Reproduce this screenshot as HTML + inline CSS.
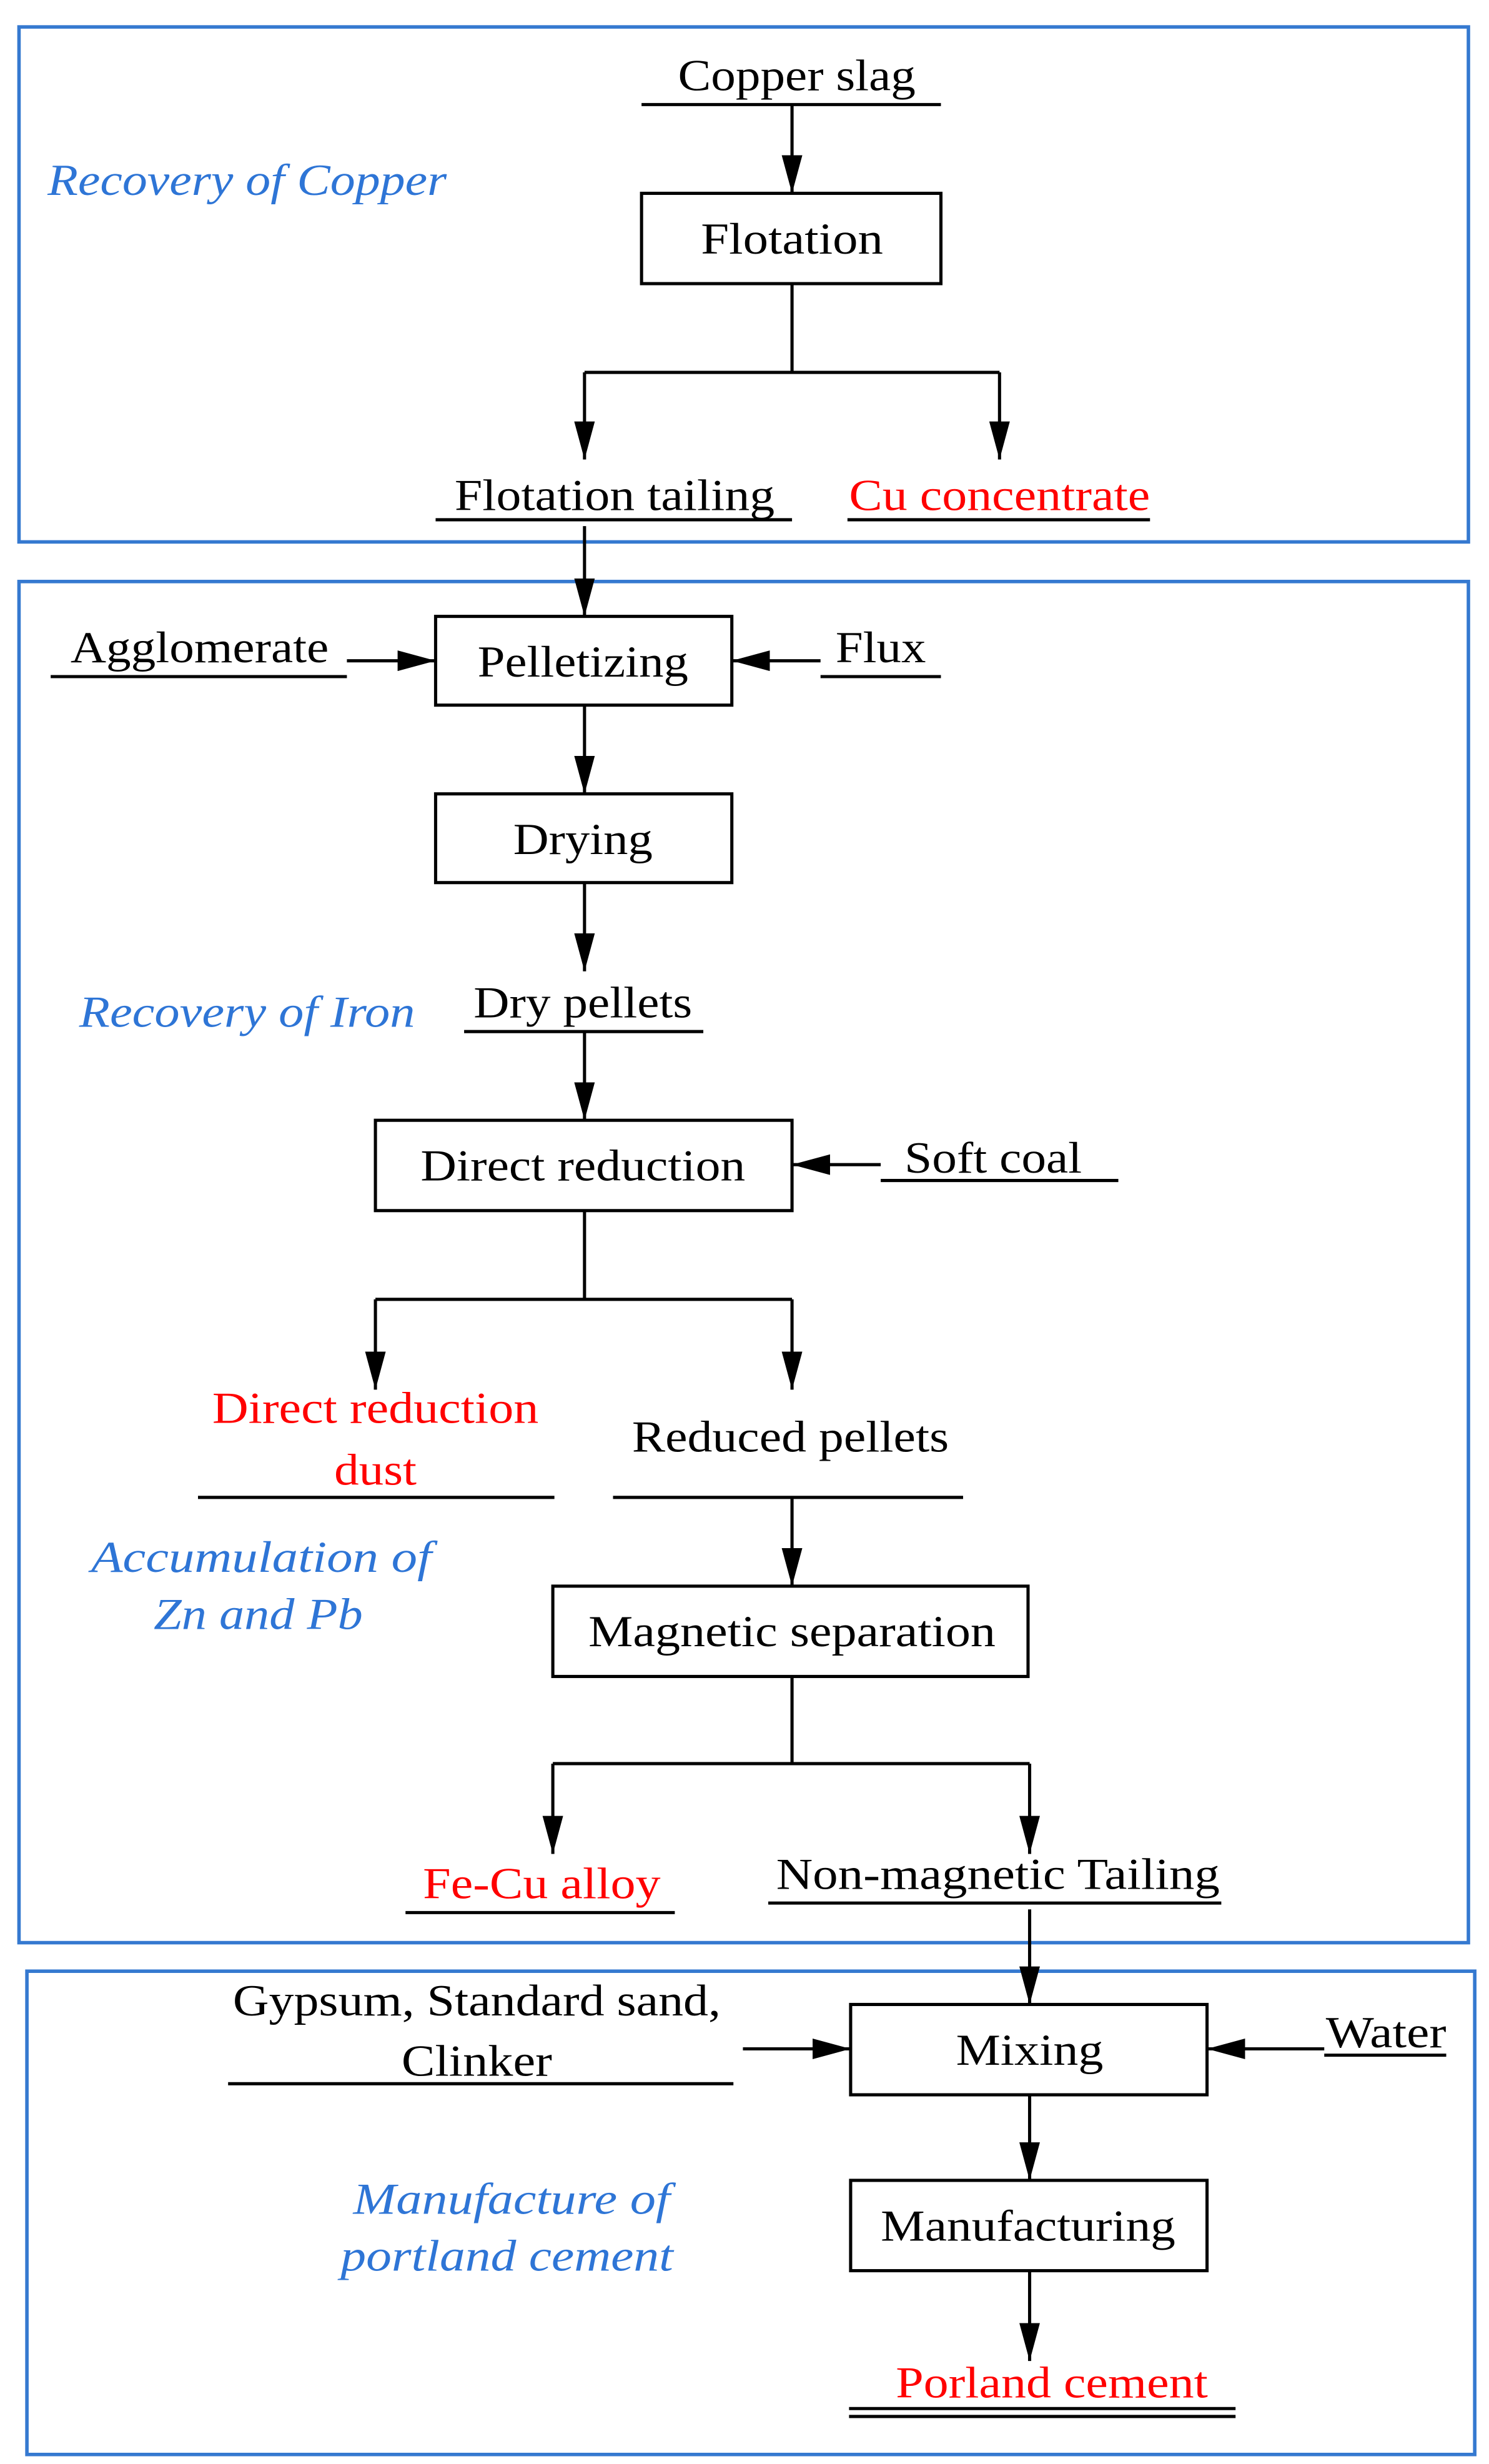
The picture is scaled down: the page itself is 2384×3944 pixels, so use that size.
<!DOCTYPE html>
<html><head><meta charset="utf-8"><style>
html,body{margin:0;padding:0;background:#fff;}
svg{display:block;}
text{font-family:"Liberation Serif",serif;font-size:28px;}
.b{fill:#000;}
.r{fill:#ff0000;}
.i{fill:#2e75d6;font-style:italic;}
</style></head><body>
<svg width="2384" height="3944" viewBox="0 0 940 1555" preserveAspectRatio="none" xmlns="http://www.w3.org/2000/svg">
<defs>
<marker id="h" viewBox="0 0 24 13" refX="24" refY="6.5" markerWidth="24" markerHeight="13" markerUnits="userSpaceOnUse" orient="auto"><path d="M0,0 L24,6.5 L0,13 z" fill="#000"/></marker></defs>
<g fill="none" stroke="#3579d0" stroke-width="2.2">
<rect x="12" y="17" width="915" height="325"/>
<rect x="12" y="367" width="915" height="859"/>
<rect x="17" y="1244" width="914" height="305"/>
</g>
<g fill="none" stroke="#000" stroke-width="2">
<rect x="405" y="122" width="189" height="57"/>
<rect x="275" y="389" width="187" height="56"/>
<rect x="275" y="501" width="187" height="56"/>
<rect x="237" y="707" width="263" height="57"/>
<rect x="349" y="1001" width="300" height="57"/>
<rect x="537" y="1265" width="225" height="57"/>
<rect x="537" y="1376" width="225" height="57"/>
<path d="M405 66H594M275 328H500M535 328H726M32 427H219M518 427H594M293 651H444M556 745H706M125 945H350M387 945H608M256 1207H426M485 1201H771M144 1315H463M836 1297H913M536 1520H780M536 1525H780"/>
<path d="M500 179V235M369 235H631M369 764V820M237 820H500M500 1058V1113M349 1113H650"/>
</g>
<g stroke="#000" stroke-width="2" fill="none">
<path d="M500 66V122" marker-end="url(#h)"/>
<path d="M369 235V290" marker-end="url(#h)"/>
<path d="M631 235V290" marker-end="url(#h)"/>
<path d="M369 332V389" marker-end="url(#h)"/>
<path d="M219 417H275" marker-end="url(#h)"/>
<path d="M518 417H462" marker-end="url(#h)"/>
<path d="M369 445V501" marker-end="url(#h)"/>
<path d="M369 557V613" marker-end="url(#h)"/>
<path d="M369 651V707" marker-end="url(#h)"/>
<path d="M556 735H500" marker-end="url(#h)"/>
<path d="M237 820V877" marker-end="url(#h)"/>
<path d="M500 820V877" marker-end="url(#h)"/>
<path d="M500 945V1001" marker-end="url(#h)"/>
<path d="M349 1113V1170" marker-end="url(#h)"/>
<path d="M650 1113V1170" marker-end="url(#h)"/>
<path d="M650 1205V1265" marker-end="url(#h)"/>
<path d="M469 1293H537" marker-end="url(#h)"/>
<path d="M836 1293H762" marker-end="url(#h)"/>
<path d="M650 1322V1376" marker-end="url(#h)"/>
<path d="M650 1433V1490" marker-end="url(#h)"/>
</g>
<g class="b" text-anchor="middle">
<text x="503" y="57" textLength="150" lengthAdjust="spacingAndGlyphs">Copper slag</text>
<text x="500" y="160" textLength="115" lengthAdjust="spacingAndGlyphs">Flotation</text>
<text x="388" y="322" textLength="202" lengthAdjust="spacingAndGlyphs">Flotation tailing</text>
<text x="126" y="418" textLength="163" lengthAdjust="spacingAndGlyphs">Agglomerate</text>
<text x="368" y="427" textLength="133" lengthAdjust="spacingAndGlyphs">Pelletizing</text>
<text x="556" y="418" textLength="57" lengthAdjust="spacingAndGlyphs">Flux</text>
<text x="368" y="539" textLength="88" lengthAdjust="spacingAndGlyphs">Drying</text>
<text x="368" y="642" textLength="138" lengthAdjust="spacingAndGlyphs">Dry pellets</text>
<text x="368" y="745" textLength="205" lengthAdjust="spacingAndGlyphs">Direct reduction</text>
<text x="627" y="740" textLength="112" lengthAdjust="spacingAndGlyphs">Soft coal</text>
<text x="499" y="916" textLength="200" lengthAdjust="spacingAndGlyphs">Reduced pellets</text>
<text x="500" y="1039" textLength="257" lengthAdjust="spacingAndGlyphs">Magnetic separation</text>
<text x="630" y="1192" textLength="280" lengthAdjust="spacingAndGlyphs">Non-magnetic Tailing</text>
<text x="301" y="1272" textLength="308" lengthAdjust="spacingAndGlyphs">Gypsum, Standard sand,</text>
<text x="301" y="1310" textLength="95" lengthAdjust="spacingAndGlyphs">Clinker</text>
<text x="650" y="1303" textLength="93" lengthAdjust="spacingAndGlyphs">Mixing</text>
<text x="875" y="1292" textLength="76" lengthAdjust="spacingAndGlyphs">Water</text>
<text x="649" y="1414" textLength="186" lengthAdjust="spacingAndGlyphs">Manufacturing</text>
</g>
<g class="r" text-anchor="middle">
<text x="631" y="322" textLength="190" lengthAdjust="spacingAndGlyphs">Cu concentrate</text>
<text x="237" y="898" textLength="206" lengthAdjust="spacingAndGlyphs">Direct reduction</text>
<text x="237" y="937" textLength="52" lengthAdjust="spacingAndGlyphs">dust</text>
<text x="342" y="1198" textLength="150" lengthAdjust="spacingAndGlyphs">Fe-Cu alloy</text>
<text x="664" y="1513" textLength="197" lengthAdjust="spacingAndGlyphs">Porland cement</text>
</g>
<g class="i">
<text x="30" y="123" textLength="252" lengthAdjust="spacingAndGlyphs">Recovery of Copper</text>
<text x="50" y="648" textLength="212" lengthAdjust="spacingAndGlyphs">Recovery of Iron</text>
<text x="165" y="992" text-anchor="middle" textLength="215" lengthAdjust="spacingAndGlyphs">Accumulation of</text>
<text x="163" y="1028" text-anchor="middle" textLength="132" lengthAdjust="spacingAndGlyphs">Zn and Pb</text>
<text x="323" y="1397" text-anchor="middle" textLength="200" lengthAdjust="spacingAndGlyphs">Manufacture of</text>
<text x="320" y="1433" text-anchor="middle" textLength="210" lengthAdjust="spacingAndGlyphs">portland cement</text>
</g>
</svg>
</body></html>
